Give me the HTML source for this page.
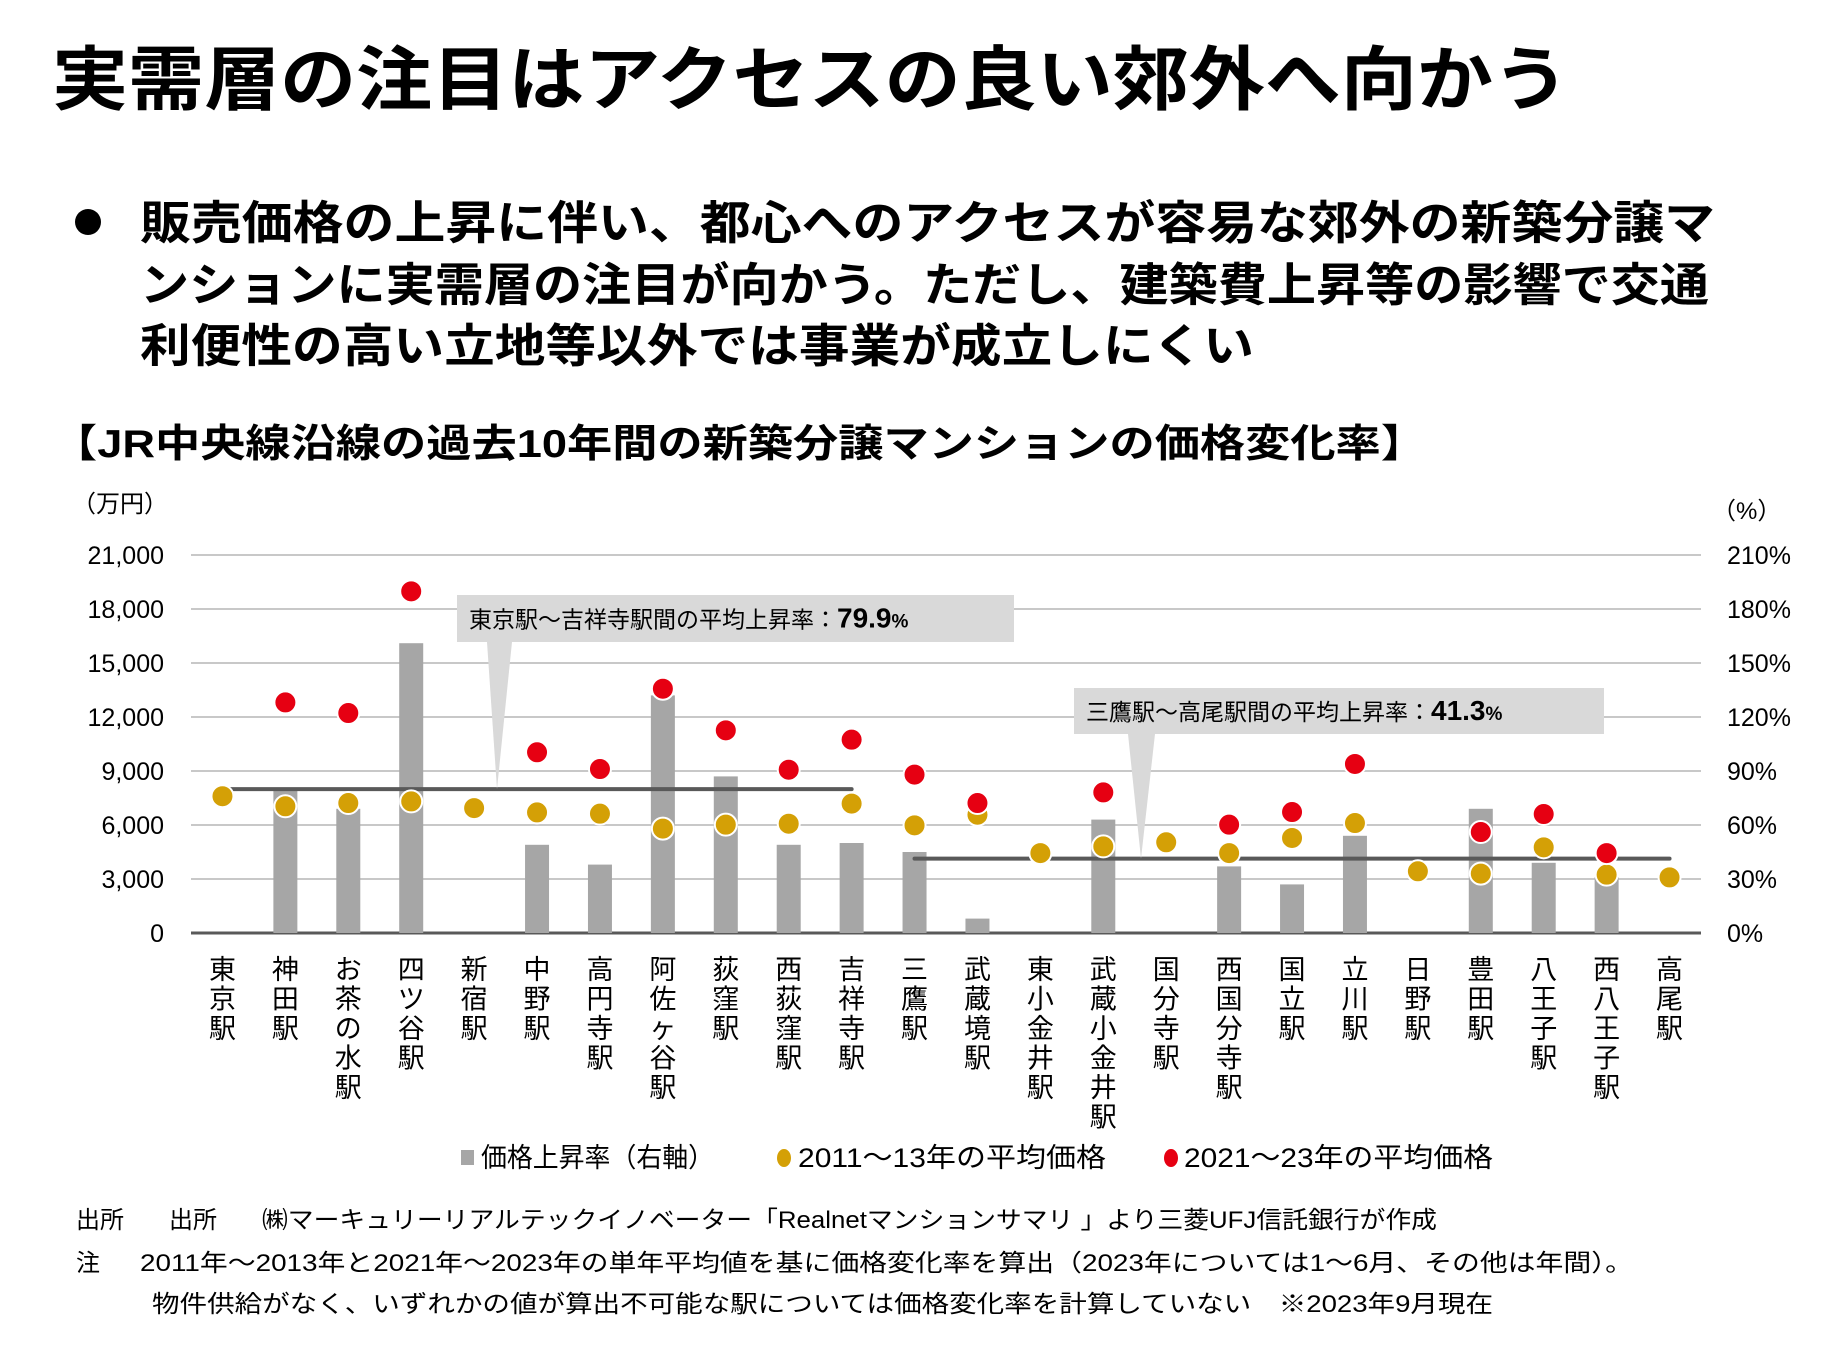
<!DOCTYPE html>
<html><head><meta charset="utf-8">
<style>
html,body{margin:0;padding:0;background:#fff;}
svg{display:block;}
text{font-family:"Liberation Sans","Noto Sans CJK JP",sans-serif;fill:#000;}
.b{font-weight:bold;}
</style></head>
<body>
<svg id="chart" width="1830" height="1350" viewBox="0 0 1830 1350">
<text x="52" y="104" font-size="70" class="b" textLength="1517" lengthAdjust="spacingAndGlyphs">実需層の注目はアクセスの良い郊外へ向かう</text>
<circle cx="88" cy="222" r="13" fill="#000"/>
<text x="140" y="239" font-size="46" class="b" textLength="1575" lengthAdjust="spacingAndGlyphs">販売価格の上昇に伴い、都心へのアクセスが容易な郊外の新築分譲マ</text>
<text x="140" y="301" font-size="46" class="b" textLength="1569" lengthAdjust="spacingAndGlyphs">ンションに実需層の注目が向かう。ただし、建築費上昇等の影響で交通</text>
<text x="140" y="362" font-size="46" class="b" textLength="1114" lengthAdjust="spacingAndGlyphs">利便性の高い立地等以外では事業が成立しにくい</text>
<text x="52" y="457" font-size="39" class="b" textLength="1374" lengthAdjust="spacingAndGlyphs">【JR中央線沿線の過去10年間の新築分譲マンションの価格変化率】</text>
<text x="72" y="512" font-size="24">（万円）</text>
<text x="1712" y="519" font-size="24">（%）</text>
<g id="grid"></g>
<g id="bars"></g>
<g id="avg"></g>
<g id="dots"></g>
<g id="xlabels"></g>
<rect x="461" y="1150" width="13" height="15" fill="#a6a6a6"/>
<text x="481" y="1167" font-size="27" textLength="233" lengthAdjust="spacingAndGlyphs">価格上昇率（右軸）</text>
<ellipse cx="784" cy="1158" rx="7" ry="9" fill="#d4a006"/>
<text x="798" y="1167" font-size="27" textLength="308" lengthAdjust="spacingAndGlyphs">2011～13年の平均価格</text>
<ellipse cx="1171" cy="1158" rx="7" ry="9" fill="#e60012"/>
<text x="1184" y="1167" font-size="27" textLength="309" lengthAdjust="spacingAndGlyphs">2021～23年の平均価格</text>
<text x="76" y="1228" font-size="24">出所</text>
<text x="169" y="1228" font-size="24">出所</text>
<text x="262" y="1228" font-size="24" textLength="1175" lengthAdjust="spacingAndGlyphs">㈱マーキュリーリアルテックイノベーター「Realnetマンションサマリ 」より三菱UFJ信託銀行が作成</text>
<text x="76" y="1271" font-size="24">注</text>
<text x="140" y="1271" font-size="24" textLength="1493" lengthAdjust="spacingAndGlyphs">2011年～2013年と2021年～2023年の単年平均値を基に価格変化率を算出（2023年については1～6月、その他は年間）。</text>
<text x="152" y="1312" font-size="24" textLength="1341" lengthAdjust="spacingAndGlyphs">物件供給がなく、いずれかの値が算出不可能な駅については価格変化率を計算していない　※2023年9月現在</text>
</svg>
<script>
const stations=["東京駅","神田駅","お茶の水駅","四ツ谷駅","新宿駅","中野駅","高円寺駅","阿佐ヶ谷駅","荻窪駅","西荻窪駅","吉祥寺駅","三鷹駅","武蔵境駅","東小金井駅","武蔵小金井駅","国分寺駅","西国分寺駅","国立駅","立川駅","日野駅","豊田駅","八王子駅","西八王子駅","高尾駅"];
const rate=[null,79,69,161,null,49,38,132,87,49,50,45,8,null,63,null,37,27,54,null,69,39,31,null];
const price2011=[7600,7040,7220,7310,6940,6700,6630,5800,6020,6070,7190,5980,6570,4440,4810,5040,4440,5280,6110,3430,3300,4760,3240,3090];
const price2021=[null,12810,12220,18980,null,10040,9110,13570,11260,9070,10740,8800,7220,null,7810,null,6020,6720,9390,null,5610,6610,4440,null];
const leftTicks=[0,3000,6000,9000,12000,15000,18000,21000];
const rightTicks=["0%","30%","60%","90%","120%","150%","180%","210%"];
const avgRates=[79.9,41.3];
const avgRanges=[[0,10],[11,23]];
const avgLabels=["79.9","41.3"];
const avgTexts=["東京駅～吉祥寺駅間の平均上昇率：","三鷹駅～高尾駅間の平均上昇率："];
</script>
<script>
const NS="http://www.w3.org/2000/svg";
const L=191,R=1701,T=555,B=933;
const n=price2011.length;
const step=(R-L)/n;
const xc=i=>L+step*(i+0.5);
const yP=v=>B-(v/21000)*(B-T);
const yR=v=>B-(v/210)*(B-T);
function mk(tag,attrs,parent){const e=document.createElementNS(NS,tag);for(const k in attrs)e.setAttribute(k,attrs[k]);parent.appendChild(e);return e;}
const grid=document.getElementById('grid');
leftTicks.forEach((t,i)=>{
  const y=yP(t);
  const ln=mk('line',{x1:L,x2:R,y1:y,y2:y,stroke:i===0?'#595959':'#c8c8c8','stroke-width':i===0?3:2},grid);
  
  
  const tl=mk('text',{x:164,y:y+9,'font-size':25,'text-anchor':'end'},grid);
  tl.textContent=t.toLocaleString('en-US');
  
  
  const tr=mk('text',{x:1727,y:y+9,'font-size':25},grid);
  tr.textContent=rightTicks[i];
  
  
});
const bars=document.getElementById('bars');
rate.forEach((v,i)=>{
  if(v==null)return;
  const r=mk('rect',{x:xc(i)-12,y:yR(v),width:24,height:B-yR(v),fill:'#a6a6a6'},bars);
  
  
});
const avg=document.getElementById('avg');
avgRates.forEach((v,k)=>{
  const y=yR(v);
  const x1=xc(avgRanges[k][0]),x2=xc(avgRanges[k][1]);
  const ln=mk('line',{x1:x1,x2:x2,y1:y,y2:y,stroke:'#595959','stroke-width':4,'stroke-linecap':'round'},avg);
  
  
});
const callouts=[{bx:457,by:595,bw:557,bh:47,px1:487,px2:512,tx:497,tgt:0,t:469},{bx:1074,by:688,bw:530,bh:46,px1:1128,px2:1155,tx:1141,tgt:1,t:1086}];
callouts.forEach((c,k)=>{
  const ty=yR(avgRates[c.tgt]);
  const p=mk('polygon',{points:`${c.px1},${c.by+c.bh} ${c.px2},${c.by+c.bh} ${c.tx},${ty}`,fill:'#d9d9d9'},avg);
  
  
  const r=mk('rect',{x:c.bx,y:c.by,width:c.bw,height:c.bh,fill:'#d9d9d9'},avg);
  
  
  const t=mk('text',{x:c.t,y:c.by+c.bh/2+9,'font-size':23},avg);
  
  
  const s1=mk('tspan',{},t);s1.textContent=avgTexts[k];
  const s2=mk('tspan',{'font-size':28,'font-weight':'bold'},t);s2.textContent=avgLabels[k];
  const s3=mk('tspan',{'font-size':19,'font-weight':'bold'},t);s3.textContent='%';
});
const dots=document.getElementById('dots');
price2011.forEach((v,i)=>{
  if(v==null)return;
  const c=mk('circle',{cx:xc(i),cy:yP(v),r:11,fill:'#d4a006',stroke:'#fff','stroke-width':2},dots);
  
  
});
price2021.forEach((v,i)=>{
  if(v==null)return;
  const c=mk('circle',{cx:xc(i),cy:yP(v),r:11,fill:'#e60012',stroke:'#fff','stroke-width':2},dots);
  
  
});
const xl=document.getElementById('xlabels');
stations.forEach((s,i)=>{
  const g=mk('text',{x:xc(i),'font-size':27,'text-anchor':'middle'},xl);
  
  
  [...s].forEach((ch,j)=>{const sp=mk('tspan',{x:xc(i),y:979+j*29.5},g);sp.textContent=ch;});
});
</script>
</body></html>
